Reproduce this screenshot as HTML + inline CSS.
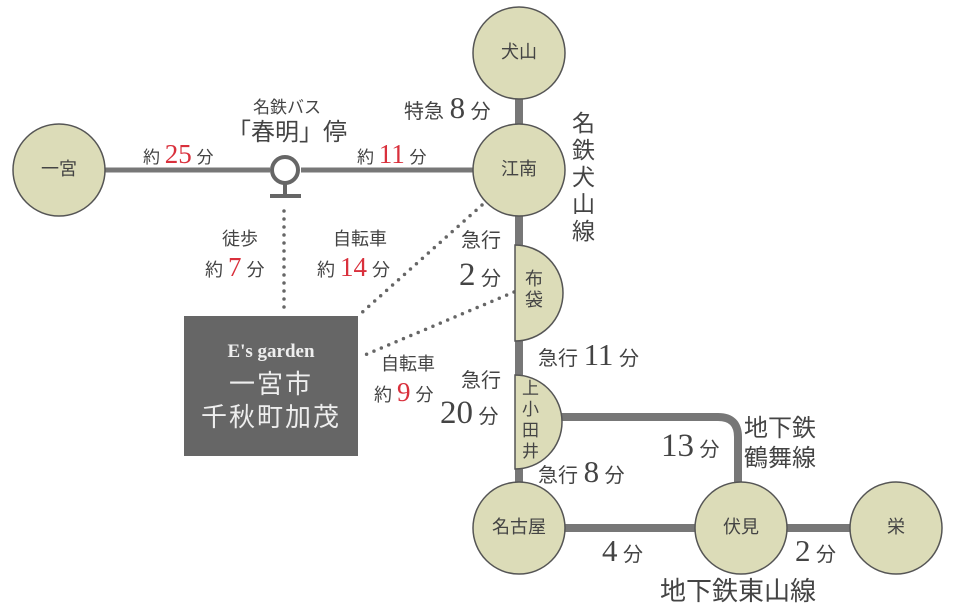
<!DOCTYPE html>
<html><head><meta charset="utf-8"><style>
body{margin:0;background:#fff;}
#w{position:relative;width:954px;height:610px;overflow:hidden;font-family:"Liberation Sans","Noto Sans CJK JP",sans-serif;color:#444;}
.t{position:absolute;white-space:nowrap;line-height:1;}
.n{font-family:"Liberation Serif","Noto Serif CJK SC",serif;}
.r{color:#d9303c;}
.c{transform:translateX(-50%);}
</style></head><body><div id="w">
<svg width="954" height="610" style="position:absolute;left:0;top:0">
<g stroke="#777" stroke-width="8" fill="none">
<line x1="519" y1="60" x2="519" y2="520"/>
<line x1="100" y1="170" x2="270" y2="170" stroke-width="5"/>
<line x1="301" y1="170" x2="480" y2="170" stroke-width="5"/>
<line x1="519" y1="528" x2="896" y2="528"/>
<path d="M560 417 H718 Q738 417 738 437 V500"/>
</g>
<g stroke="#666" stroke-width="3.5" stroke-dasharray="0 8" stroke-linecap="round" fill="none">
<line x1="284" y1="211" x2="284" y2="315"/>
<line x1="482" y1="205" x2="358" y2="316"/>
<line x1="514" y1="292" x2="360" y2="357"/>
</g>
<circle cx="285" cy="170" r="13" fill="#fff" stroke="#666" stroke-width="4"/>
<line x1="285" y1="183" x2="285" y2="196" stroke="#666" stroke-width="4"/>
<line x1="270" y1="196" x2="301" y2="196" stroke="#666" stroke-width="4"/>
<g fill="#dcdcb8" stroke="#555" stroke-width="1.5">
<circle cx="519" cy="53" r="46"/>
<circle cx="519" cy="170" r="46"/>
<circle cx="59" cy="170" r="46"/>
<circle cx="519" cy="528" r="46"/>
<circle cx="741" cy="528" r="46"/>
<circle cx="896" cy="528" r="46"/>
<path d="M515 245 A48 48 0 0 1 515 341 Z"/>
<path d="M515 375 A47 47 0 0 1 515 469 Z"/>
</g>
<rect x="184" y="316" width="174" height="140" fill="#666"/>
</svg>
<div class="t c" style="left:519px;top:43px;font-size:18px">犬山</div>
<div class="t c" style="left:519px;top:160px;font-size:18px">江南</div>
<div class="t c" style="left:59px;top:160px;font-size:18px">一宮</div>
<div class="t c" style="left:519px;top:518px;font-size:18px">名古屋</div>
<div class="t c" style="left:741px;top:518px;font-size:18px">伏見</div>
<div class="t c" style="left:896px;top:518px;font-size:18px">栄</div>
<div class="t" style="left:525px;top:269px;font-size:18px;line-height:21px;white-space:normal;width:18px">布袋</div>
<div class="t" style="left:522px;top:378px;font-size:17px;line-height:21px;white-space:normal;width:18px">上小田井</div>
<div class="t c n" style="left:271px;top:342px;font-size:19px;color:#eee;font-weight:bold">E's garden</div>
<div class="t c" style="left:271px;top:371px;font-size:26px;color:#eee;letter-spacing:2px">一宮市</div>
<div class="t c" style="left:271px;top:404px;font-size:26px;color:#eee;letter-spacing:2px">千秋町加茂</div>
<div class="t c" style="left:287px;top:99px;font-size:17px">名鉄バス</div>
<div class="t c" style="left:287px;top:121px;font-size:24px">「春明」停</div>
<div class="t" style="left:143px;top:141px;font-size:17px">約 <span class="n r" style="font-size:27px">25</span> 分</div>
<div class="t" style="left:357px;top:141px;font-size:17px">約 <span class="n r" style="font-size:27px">11</span> 分</div>
<div class="t" style="left:404px;top:92px;font-size:20px">特急 <span class="n" style="font-size:31px">8</span> 分</div>
<div class="t" style="left:572px;top:110px;font-size:23px;line-height:27px;white-space:normal;width:25px">名鉄犬山線</div>
<div class="t c" style="left:240px;top:230px;font-size:18px">徒歩</div>
<div class="t" style="left:205px;top:254px;font-size:18px">約 <span class="n r" style="font-size:27px">7</span> 分</div>
<div class="t c" style="left:360px;top:230px;font-size:18px">自転車</div>
<div class="t" style="left:317px;top:254px;font-size:18px">約 <span class="n r" style="font-size:27px">14</span> 分</div>
<div class="t" style="left:461px;top:231px;font-size:20px">急行</div>
<div class="t" style="left:459px;top:259px;font-size:20px"><span class="n" style="font-size:33px">2</span> 分</div>
<div class="t" style="left:538px;top:339px;font-size:20px">急行 <span class="n" style="font-size:31px">11</span> 分</div>
<div class="t c" style="left:408px;top:355px;font-size:18px">自転車</div>
<div class="t" style="left:374px;top:379px;font-size:18px">約 <span class="n r" style="font-size:27px">9</span> 分</div>
<div class="t" style="left:461px;top:371px;font-size:20px">急行</div>
<div class="t" style="left:440px;top:397px;font-size:20px"><span class="n" style="font-size:33px">20</span> 分</div>
<div class="t" style="left:538px;top:456px;font-size:20px">急行 <span class="n" style="font-size:31px">8</span> 分</div>
<div class="t" style="left:661px;top:430px;font-size:20px"><span class="n" style="font-size:33px">13</span> 分</div>
<div class="t" style="left:744px;top:414px;font-size:24px;line-height:30px">地下鉄<br>鶴舞線</div>
<div class="t" style="left:602px;top:535px;font-size:20px"><span class="n" style="font-size:31px">4</span> 分</div>
<div class="t" style="left:795px;top:535px;font-size:20px"><span class="n" style="font-size:31px">2</span> 分</div>
<div class="t" style="left:660px;top:578px;font-size:26px">地下鉄東山線</div>
</div></body></html>
